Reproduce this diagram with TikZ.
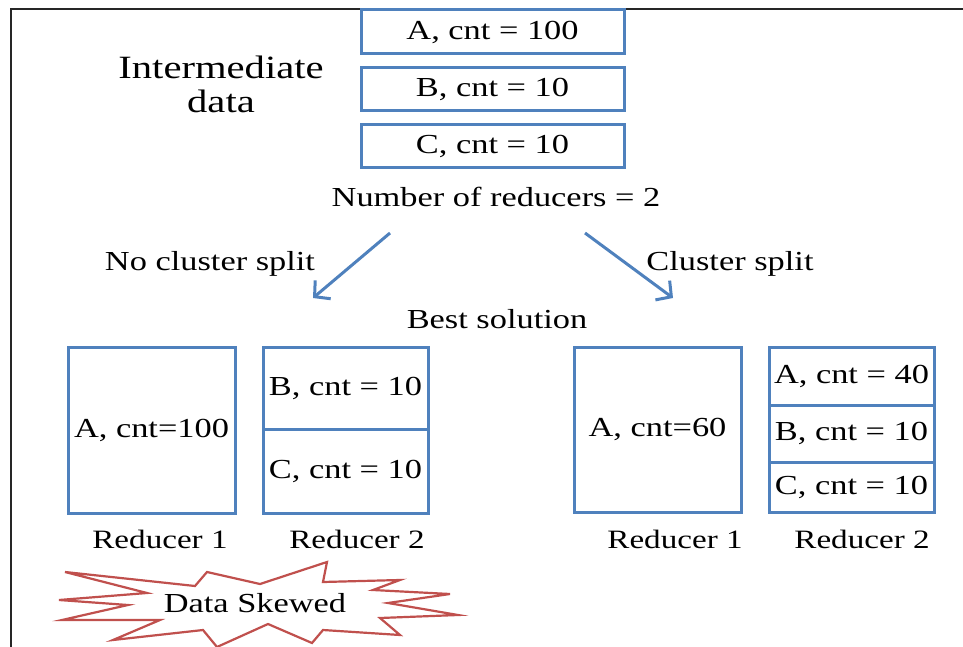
\documentclass[tikz,border=0pt]{standalone}
\usepackage{fontspec}
\setmainfont{Liberation Serif}[FakeStretch=1.25]
\usetikzlibrary{arrows.meta}
\definecolor{boxblue}{RGB}{79,129,189}
\definecolor{burstred}{RGB}{192,80,77}

\begin{document}
\begin{tikzpicture}[x=1pt, y=-1pt,
    cell/.style={draw=boxblue, line width=3pt, inner sep=0pt, outer sep=0pt,
        font=\fontsize{27.5}{33}\selectfont},
    lbl/.style={anchor=base, inner sep=0pt, font=\fontsize{27.5}{33}\selectfont},
    split/.style={draw=boxblue, line width=3pt, -{Straight Barb[length=11pt, width=24pt]}}]
    \useasboundingbox (0,0) rectangle (963,647);

    % Frame (top and left edge)
    \draw[line width=1.5pt, black!85] (11,647) -- (11,9) -- (963,9);

    % Intermediate data
    \node[lbl, font=\fontsize{32.5}{39}\selectfont] (interm) at (221,79) {Intermediate};
    \node[lbl, font=\fontsize{32.5}{39}\selectfont] (data) at (221,113) {data};

    \node[cell, minimum width=263pt, minimum height=44pt] (keyA) at (492.5,32) {A, cnt = 100};
    \node[cell, minimum width=263pt, minimum height=43pt] (keyB) at (492.5,89.5) {B, cnt = 10};
    \node[cell, minimum width=263pt, minimum height=43pt] (keyC) at (492.5,146.5) {C, cnt = 10};

    \node[lbl] (numred) at (496,207) {Number of reducers = 2};

    % The two choices
    \coordinate (noSplitStart) at (390,233);
    \coordinate (noSplitEnd) at (313,298);
    \coordinate (splitStart) at (585,233);
    \coordinate (splitEnd) at (673,298);
    \draw[split] (noSplitStart) -- (noSplitEnd);
    \draw[split] (splitStart) -- (splitEnd);
    \node[lbl] (nosplit) at (210,270) {No cluster split};
    \node[lbl] (clsplit) at (730,270) {Cluster split};
    \node[lbl] (best) at (497,328) {Best solution};

    % Left: no cluster split
    \node[cell, minimum width=167pt, minimum height=166pt] (lredA) at (151.5,430) {A, cnt=100};
    \node[cell, minimum width=165pt, minimum height=82pt] (lredB) at (345.5,388) {B, cnt = 10};
    \node[cell, minimum width=165pt, minimum height=84pt] (lredC) at (345.5,471) {C, cnt = 10};
    \node[lbl, font=\fontsize{26.5}{32}\selectfont] (lred1) at (160,548) {Reducer 1};
    \node[lbl, font=\fontsize{26.5}{32}\selectfont] (lred2) at (357,548) {Reducer 2};

    % Right: cluster split
    \node[cell, minimum width=167pt, minimum height=165pt] (rredA) at (657.5,429.5) {A, cnt=60};
    \node[cell, minimum width=165pt, minimum height=58pt] (rredA2) at (851.5,376) {A, cnt = 40};
    \node[cell, minimum width=165pt, minimum height=57pt] (rredB) at (851.5,433.5) {B, cnt = 10};
    \node[cell, minimum width=165pt, minimum height=50pt] (rredC) at (851.5,487) {C, cnt = 10};
    \node[lbl, font=\fontsize{26.5}{32}\selectfont] (rred1) at (675,548) {Reducer 1};
    \node[lbl, font=\fontsize{26.5}{32}\selectfont] (rred2) at (862,548) {Reducer 2};

    % Skew warning
    \draw[burstred, line width=2.2pt, fill=white, line join=miter]
        (65,572) -- (195,586) -- (207,572) -- (260,584) -- (327,562) -- (323,582)
        -- (400,580) -- (373,590) -- (450,594) -- (388,603) -- (458,615)
        -- (380,618) -- (400,635) -- (323,630) -- (312,643) -- (268,624)
        -- (217,647) -- (203,630) -- (113,640) -- (160,620) -- (62,620)
        -- (128,605) -- (59,600) -- (147,593) -- cycle;
    \node[lbl] (skew) at (255,612) {Data Skewed};
\end{tikzpicture}
\end{document}
